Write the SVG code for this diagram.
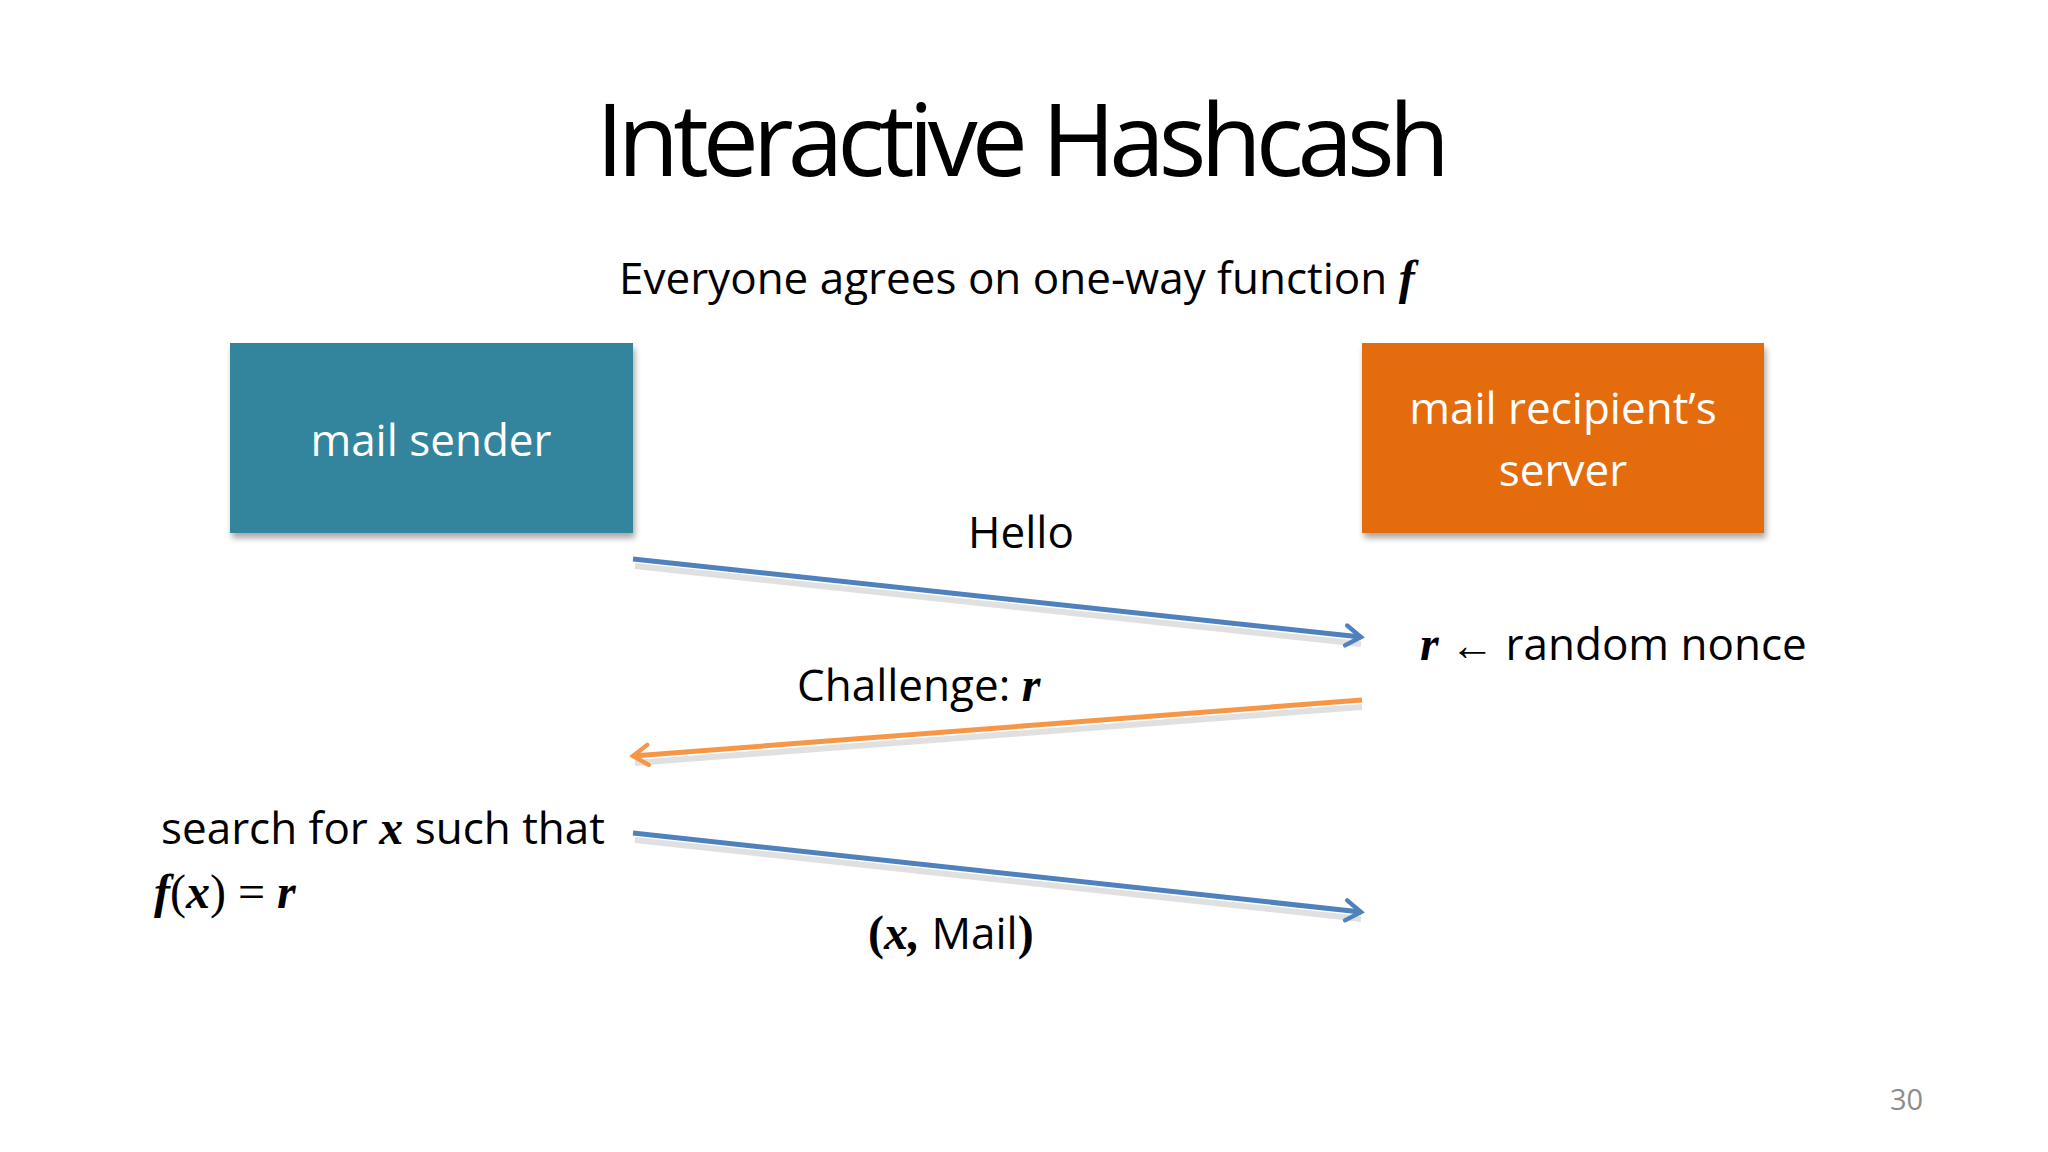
<svg xmlns="http://www.w3.org/2000/svg" width="2048" height="1152" viewBox="0 0 2048 1152">
<style>
.t{font-family:"Open Sans","Liberation Sans",sans-serif;fill:#000}
.m{font-family:"Liberation Serif",serif;font-style:italic;font-weight:bold}
.mb{font-family:"Liberation Serif",serif;font-weight:bold}
.w{font-family:"Open Sans","Liberation Sans",sans-serif;fill:#fff;font-size:44px;text-anchor:middle}
.sh{stroke:#000;stroke-opacity:0.12;stroke-width:6;fill:none}
</style>
<defs>
<filter id="ds" x="-10%" y="-10%" width="130%" height="130%"><feGaussianBlur in="SourceAlpha" stdDeviation="3"/><feOffset dx="2" dy="5"/><feComponentTransfer><feFuncA type="linear" slope="0.35"/></feComponentTransfer><feMerge><feMergeNode/><feMergeNode in="SourceGraphic"/></feMerge></filter>
<marker id="ab" viewBox="0 0 20 20" refX="17" refY="10" markerWidth="5" markerHeight="5" orient="auto" markerUnits="strokeWidth"><path d="M5,2 L17,10 L5,18" fill="none" stroke="#4F81BD" stroke-width="3.5" stroke-linecap="round"/></marker>
<marker id="ao" viewBox="0 0 20 20" refX="17" refY="10" markerWidth="5" markerHeight="5" orient="auto" markerUnits="strokeWidth"><path d="M5,2 L17,10 L5,18" fill="none" stroke="#F79646" stroke-width="3.5" stroke-linecap="round"/></marker>
</defs>
<rect width="2048" height="1152" fill="#fff"/>
<text class="t" x="1023" y="176" font-size="100" text-anchor="middle" textLength="854">Interactive Hashcash</text>
<text class="t" x="619" y="294" font-size="44">Everyone agrees on one-way function <tspan class="m" font-size="48">f</tspan></text>
<g id="sender"><rect x="230" y="343" width="403" height="190" fill="#31859C" filter="url(#ds)"/><text class="w" x="431" y="456">mail sender</text></g>
<g id="recipient"><rect x="1362" y="343" width="402" height="190" fill="#E46C0A" filter="url(#ds)"/><text class="w" x="1563" y="424">mail recipient’s</text><text class="w" x="1563" y="486">server</text></g>
<g id="connectors">
<line class="sh" x1="635" y1="566" x2="1361" y2="644"/>
<line x1="633" y1="559" x2="1361" y2="637" stroke="#4F81BD" stroke-width="5" marker-end="url(#ab)"/>
<line class="sh" x1="1362" y1="707" x2="635" y2="763"/>
<line x1="1362" y1="700" x2="633" y2="756" stroke="#F79646" stroke-width="5" marker-end="url(#ao)"/>
<line class="sh" x1="635" y1="840" x2="1361" y2="919"/>
<line x1="633" y1="833" x2="1361" y2="912" stroke="#4F81BD" stroke-width="5" marker-end="url(#ab)"/>
</g>
<g id="labels" class="t" font-size="44">
<text x="1021" y="548" text-anchor="middle">Hello</text>
<text x="1420" y="660"><tspan class="m" font-size="48">r</tspan> <tspan class="mb">←</tspan> random nonce</text>
<text x="797" y="701">Challenge: <tspan class="m" font-size="48">r</tspan></text>
<text x="161" y="844">search for <tspan class="m" font-size="48">x</tspan> such that</text>
<text x="154" y="908" font-size="48"><tspan class="m">f</tspan><tspan font-family="Liberation Serif">(</tspan><tspan class="m">x</tspan><tspan font-family="Liberation Serif">) = </tspan><tspan class="m">r</tspan></text>
<text x="868" y="949"><tspan class="mb" font-size="48">(</tspan><tspan class="m" font-size="48">x,</tspan> Mail<tspan class="mb" font-size="48">)</tspan></text>
</g>
<text x="1890" y="1110" font-family="Open Sans,Liberation Sans,sans-serif" font-size="29" fill="#8C8C8C">30</text>
</svg>
